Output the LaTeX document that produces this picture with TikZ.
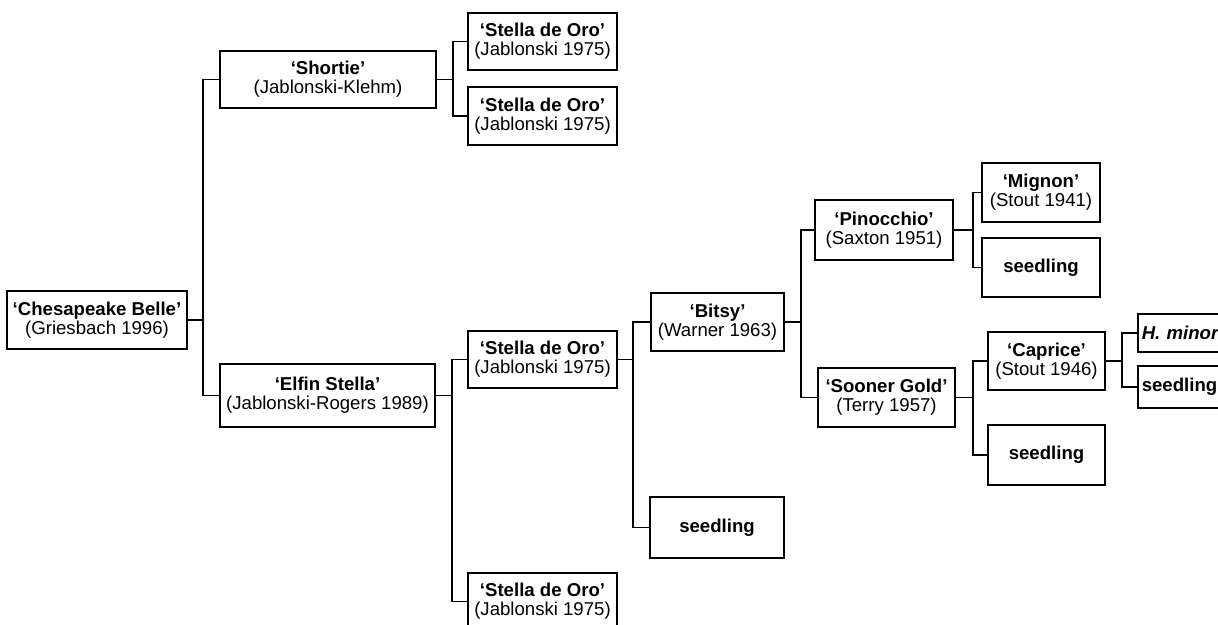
\documentclass[tikz,border=0pt]{standalone}
\usepackage{fontspec}
\setmainfont{Liberation Sans}

\begin{document}
\begin{tikzpicture}[x=.5pt,y=-.5pt,
  font=\fontsize{9.3pt}{9.6pt}\selectfont,
  box/.style 2 args={draw,line width=.75pt,align=center,inner sep=0pt,
    minimum width=#1*.5pt,minimum height=#2*.5pt},
  edgebox/.style={draw,line width=.75pt,anchor=west,align=left,inner xsep=2pt,
    text width=60pt,minimum height=#1*.5pt},
  wire/.style={line width=.75pt}]
  \clip (0,0) rectangle (1218,625);
  % first and second generation
  \node[box={180}{58}] (CB)  at (97,320)     {\textbf{`Chesapeake Belle'}\\(Griesbach 1996)};
  \node[box={216}{57}] (Sh)  at (328,79.5)   {\textbf{`Shortie'}\\(Jablonski-Klehm)};
  \node[box={215}{63}] (ES)  at (327.5,395.5) {\textbf{`Elfin Stella'}\\(Jablonski-Rogers 1989)};
  % third generation
  \node[box={149}{57}] (SO1) at (542.5,41.5)  {\textbf{`Stella de Oro'}\\(Jablonski 1975)};
  \node[box={149}{58}] (SO2) at (542.5,116)   {\textbf{`Stella de Oro'}\\(Jablonski 1975)};
  \node[box={149}{57}] (SO3) at (542.5,359.5) {\textbf{`Stella de Oro'}\\(Jablonski 1975)};
  \node[box={149}{57}] (SO4) at (542.5,601.5) {\textbf{`Stella de Oro'}\\(Jablonski 1975)};
  % fourth and fifth generation
  \node[box={133}{58}] (Bi)  at (717.5,322)   {\textbf{`Bitsy'}\\(Warner 1963)};
  \node[box={134}{61}] (S1)  at (717,527.5)   {\textbf{seedling}};
  \node[box={138}{60}] (Pi)  at (884,230)     {\textbf{`Pinocchio'}\\(Saxton 1951)};
  \node[box={137}{59}] (SG)  at (886.5,397.5) {\textbf{`Sooner Gold'}\\(Terry 1957)};
  \node[box={118}{59}] (Mi)  at (1041,192.5)  {\textbf{`Mignon'}\\(Stout 1941)};
  \node[box={118}{59}] (S2)  at (1041,267.5)  {\textbf{seedling}};
  \node[box={117}{58}] (Ca)  at (1046.5,361)  {\textbf{`Caprice'}\\(Stout 1946)};
  \node[box={117}{60}] (S3)  at (1046.5,455)  {\textbf{seedling}};
  % last column runs off the right edge
  \node[edgebox=38] (Hm)  at (1137,333)    {\textbf{\textit{H. minor}}};
  \node[edgebox=42] (S4)  at (1137,387)    {\textbf{seedling}};
  % connectors, parent to seed and pollen parent
  \draw[wire] (CB.east) -- ++(15,0) |- (Sh.west);
  \draw[wire] (CB.east) -- ++(15,0) |- (ES.west);
  \draw[wire] (Sh.east) -- ++(16,0) |- (SO1.west);
  \draw[wire] (Sh.east) -- ++(16,0) |- (SO2.west);
  \draw[wire] (ES.east) -- ++(16,0) |- (SO3.west);
  \draw[wire] (ES.east) -- ++(16,0) |- (SO4.west);
  \draw[wire] (SO3.east) -- ++(15,0) |- (Bi.west);
  \draw[wire] (SO3.east) -- ++(15,0) |- (S1.west);
  \draw[wire] (Bi.east) -- ++(16,0) |- (Pi.west);
  \draw[wire] (Bi.east) -- ++(16,0) |- (SG.west);
  \draw[wire] (Pi.east) -- ++(19,0) |- (Mi.west);
  \draw[wire] (Pi.east) -- ++(19,0) |- (S2.west);
  \draw[wire] (SG.east) -- ++(17,0) |- (Ca.west);
  \draw[wire] (SG.east) -- ++(17,0) |- (S3.west);
  \draw[wire] (Ca.east) -- ++(16,0) |- (Hm.west);
  \draw[wire] (Ca.east) -- ++(16,0) |- (S4.west);
\end{tikzpicture}
\end{document}
